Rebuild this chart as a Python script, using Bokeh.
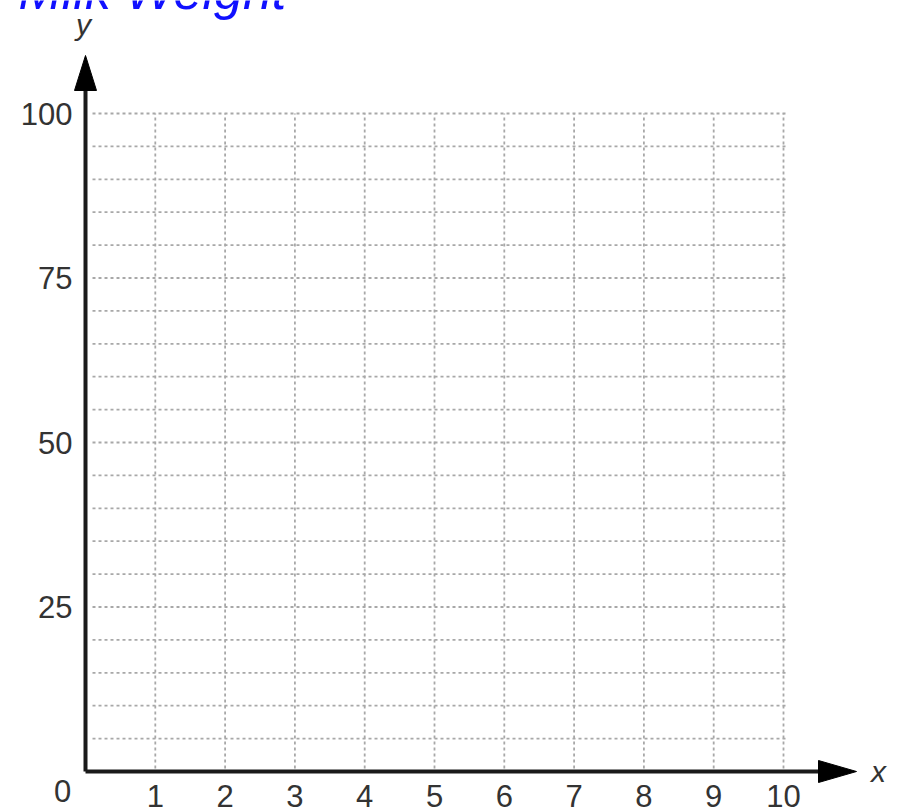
from bokeh.plotting import figure
from bokeh.models import Range1d
from bokeh.core.properties import value
from bokeh.embed import file_html
from bokeh.resources import INLINE

# Axis ticks and grid spacing
x_ticks = [1, 2, 3, 4, 5, 6, 7, 8, 9, 10]
x_tick_labels = ["1", "2", "3", "4", "5", "6", "7", "8", "9", "10"]
y_ticks = [25, 50, 75, 100]
y_tick_labels = ["25", "50", "75", "100"]
y_grid = [5, 10, 15, 20, 25, 30, 35, 40, 45, 50, 55, 60, 65, 70, 75, 80, 85, 90, 95, 100]
x_grid = [1, 2, 3, 4, 5, 6, 7, 8, 9, 10]
title_text = "Milk Weight"

W, H = 904, 809
# pixel scale of the plotting area
X_ORIGIN_PX, X_UNIT_PX = 85.0, 69.8
Y_ORIGIN_PX, Y_UNIT_PX = 771.0, 6.58

x0 = -X_ORIGIN_PX / X_UNIT_PX
x1 = (W - X_ORIGIN_PX) / X_UNIT_PX
y1 = Y_ORIGIN_PX / Y_UNIT_PX
y0 = (Y_ORIGIN_PX - H) / Y_UNIT_PX

p = figure(width=W, height=H, output_backend="svg", toolbar_location=None,
           x_axis_location=None, y_axis_location=None,
           x_range=Range1d(x0, x1), y_range=Range1d(y0, y1), min_border=0)
p.outline_line_color = None
p.xgrid.visible = False
p.ygrid.visible = False
p.background_fill_color = "white"
p.border_fill_color = "white"

def px_x(n):
    return n / X_UNIT_PX

def px_y(n):
    return n / Y_UNIT_PX

grid_color = "#a8a8a8"
x_max = max(x_grid)
y_max = max(y_grid)

# dotted horizontal grid lines
p.segment(x0=[px_x(7)] * len(y_grid), y0=y_grid,
          x1=[x_max + px_x(2)] * len(y_grid), y1=y_grid,
          line_color=grid_color, line_width=1.8, line_dash="3 3")
# dotted vertical grid lines
p.segment(x0=x_grid, y0=[px_y(3)] * len(x_grid),
          x1=x_grid, y1=[y_max] * len(x_grid),
          line_color=grid_color, line_width=1.8, line_dash="3 3")

axis_color = "#1a1a1a"
x_tip = x_max + px_x(73)
y_tip = y_max + px_y(58)
# axes lines
p.segment(x0=[0, 0], y0=[0, 0], x1=[x_tip - px_x(30), 0], y1=[0, y_tip - px_y(30)],
          line_color=axis_color, line_width=4)
# arrow heads
p.patches(xs=[[x_tip, x_tip - px_x(38), x_tip - px_x(38)],
              [0, px_x(11), -px_x(11)]],
          ys=[[0, px_y(11), -px_y(11)],
              [y_tip, y_tip - px_y(35), y_tip - px_y(35)]],
          fill_color="black", line_color="black", line_width=1)

label_font = value("Liberation Sans")
label_color = "#333333"
label_size = "31px"
# y tick labels
p.text(x=[0] * len(y_ticks), y=y_ticks, text=y_tick_labels, x_offset=-13,
       text_align="right", text_baseline="middle", text_font=label_font,
       text_font_size=label_size, text_color=label_color)
# x tick labels
p.text(x=x_ticks, y=[0] * len(x_ticks), text=x_tick_labels, y_offset=24,
       text_align="center", text_baseline="middle", text_font=label_font,
       text_font_size=label_size, text_color=label_color)
# origin label
p.text(x=[0], y=[0], text=["0"], x_offset=-23, y_offset=19,
       text_align="center", text_baseline="middle", text_font=label_font,
       text_font_size=label_size, text_color=label_color)

# axis names
p.text(x=[0], y=[y_tip], text=["y"], x_offset=-2, y_offset=-31,
       text_align="center", text_baseline="middle", text_font=label_font,
       text_font_style="italic", text_font_size="30px", text_color=label_color)
p.text(x=[x_tip], y=[0], text=["x"], x_offset=22, y_offset=0,
       text_align="center", text_baseline="middle", text_font=label_font,
       text_font_style="italic", text_font_size="30px", text_color=label_color)

# handwritten heading, running off the top edge
p.text(x=[x0 + px_x(18)], y=[y1 + px_y(10)], text=[title_text],
       text_align="left", text_baseline="alphabetic",
       text_font=value("Liberation Sans"), text_font_style="italic",
       text_font_size="52px", text_color="#1010ff")

open("out.html", "w").write(file_html(p, INLINE))
